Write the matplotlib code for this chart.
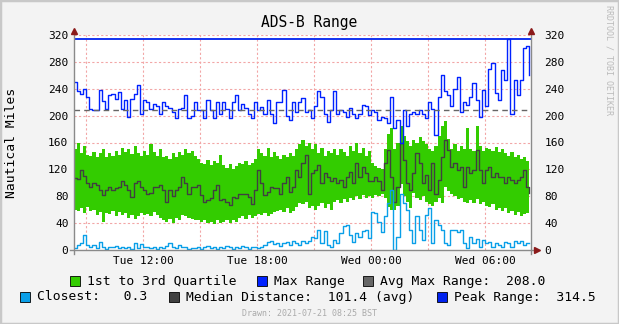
import numpy as np
import matplotlib
matplotlib.use("Agg")
import matplotlib.pyplot as plt
from matplotlib.patches import Rectangle
from matplotlib.lines import Line2D

plt.rcParams["font.family"] = "DejaVu Sans Mono"

# 10 minute samples, Tue 08:20 -> Wed 08:20 (hours since Tue 00:00)
start_hour = 8 + 20 / 60
step_hours = 1 / 6

# 3rd quartile (nm)
q3 = [
    150, 160, 145, 155, 142,
    140, 146, 138, 144, 150, 139,
    145, 140, 148, 142, 152, 146,
    150, 143, 155, 145, 140, 148,
    142, 158, 146, 140, 150, 138,
    140, 136, 144, 138, 146, 142,
    150, 145, 148, 140, 135, 130,
    128, 134, 126, 132, 130, 142,
    126, 122, 128, 120, 125, 130,
    128, 132, 126, 130, 135, 150,
    145, 140, 152, 138, 146, 140,
    136, 142, 138, 145, 140, 150,
    158, 164, 155, 160, 150, 158,
    145, 152, 140, 148, 144, 150,
    142, 150, 146, 140, 155, 148,
    160, 145, 152, 140, 148, 130,
    125, 122, 120, 150, 172, 182,
    150, 160, 184, 170, 162, 155,
    164, 160, 168, 162, 158, 150,
    148, 155, 170, 185, 192, 165,
    150, 158, 148, 155, 150, 182,
    150, 148, 184, 155, 148, 152,
    150, 148, 154, 146, 150, 145,
    140, 146, 138, 142, 136, 138,
    132, 128,
]

# 1st quartile (nm)
q1 = [
    60, 58, 62, 55, 64,
    58, 60, 52, 56, 42, 55,
    54, 58, 50, 56, 52, 55,
    48, 52, 46, 50, 55, 52,
    54, 50, 56, 52, 48, 45,
    42, 46, 40, 48, 44, 52,
    50, 48, 46, 44, 45, 42,
    44, 40, 42, 38, 44, 40,
    42, 45, 40, 44, 42, 48,
    50, 46, 52, 48, 50, 54,
    52, 55, 50, 53, 56, 58,
    60, 56, 62, 55, 58, 64,
    70, 68, 72, 62, 66, 60,
    65, 70, 62, 68, 60, 72,
    74, 70, 76, 72, 78, 74,
    80, 76, 82, 78, 80, 78,
    82, 80, 84, 78, 64, 60,
    60, 66, 98, 80, 72, 62,
    85, 78, 74, 80, 72, 68,
    66, 72, 78, 70, 94, 88,
    84, 80, 76, 78, 72, 70,
    74, 70, 76, 68, 72, 66,
    64, 68, 60, 62, 58, 62,
    55, 58, 52, 56, 50, 54,
    55, 58,
]

# median distance (nm)
median = [
    107, 106, 119, 110, 99,
    94, 99, 97, 89, 82, 89,
    94, 90, 92, 94, 102, 97,
    90, 79, 99, 102, 94, 90,
    84, 85, 94, 94, 97, 89,
    72, 89, 80, 89, 94, 109,
    99, 84, 94, 94, 97, 82,
    72, 75, 77, 89, 97, 74,
    76, 72, 67, 79, 77, 84,
    84, 84, 79, 69, 89, 119,
    99, 82, 87, 94, 92, 92,
    84, 99, 109, 87, 94, 119,
    109, 130, 141, 84, 114, 119,
    126, 99, 114, 109, 102, 107,
    99, 104, 94, 109, 116, 99,
    129, 109, 124, 114, 102, 102,
    109, 102, 89, 129, 149, 109,
    72, 94, 159, 134, 99, 89,
    114, 144, 129, 99, 112, 89,
    129, 84, 104, 139, 164, 149,
    124, 129, 119, 124, 94, 124,
    114, 119, 149, 119, 99, 119,
    124, 109, 114, 109, 109, 99,
    109, 104, 99, 104, 109, 119,
    94, 85,
]

# max range (nm)
max_range = [
    250, 236, 232, 240, 228,
    210, 208, 209, 238, 222, 210,
    230, 232, 225, 235, 210, 223,
    198, 225, 232, 245, 203, 223,
    220, 210, 218, 215, 203, 220,
    215, 212, 205, 196, 210, 212,
    230, 197, 200, 221, 208, 208,
    196, 223, 208, 196, 221, 203,
    221, 210, 196, 220, 231, 208,
    218, 212, 203, 196, 220, 208,
    213, 203, 223, 203, 189, 221,
    221, 238, 200, 193, 221, 206,
    221, 226, 206, 208, 196, 215,
    236, 228, 203, 191, 208, 236,
    203, 208, 205, 198, 211, 203,
    196, 203, 216, 215, 201, 208,
    206, 193, 198, 196, 189, 228,
    181, 193, 159, 208, 184, 203,
    206, 203, 208, 203, 196, 221,
    210, 171, 228, 260, 236, 230,
    215, 240, 258, 206, 221, 216,
    228, 248, 223, 198, 238, 215,
    270, 278, 233, 223, 268, 253,
    314.5, 203, 253, 230, 253, 300,
    303, 260,
]

# closest aircraft (nm)
closest = [
    3, 8, 10, 22, 8,
    5, 7, 3, 12, 4, 2,
    5, 4, 6, 3, 5, 3,
    4, 2, 11, 3, 9, 4,
    5, 3, 4, 2, 5, 3,
    6, 10, 4, 3, 8, 5,
    4, 2, 3, 3, 5, 2,
    4, 6, 3, 4, 2, 5,
    3, 6, 4, 2, 4, 3,
    6, 5, 2, 4, 5, 3,
    4, 8, 12, 14, 9, 11,
    6, 10, 12, 8, 13, 10,
    7, 14, 11, 13, 20, 18,
    30, 10, 28, 8, 5, 15,
    10, 25, 35, 37, 22, 12,
    25, 20, 28, 30, 18, 57,
    55, 42, 27, 50, 70, 89,
    0.3, 20, 84, 70, 60, 30,
    10, 50, 30, 15, 52, 62,
    10, 45, 37, 30, 10, 8,
    30, 30, 27, 30, 10, 3,
    20, 10, 17, 5, 15, 10,
    12, 5, 10, 7, 5, 12,
    10, 5, 14, 10, 14, 7,
    11, 10,
]

avg_max = 208.0
peak_range = 314.5
median_avg = 101.4
closest_min = 0.3

hours = start_hour + np.arange(len(q3)) * step_hours

major_ticks = [12, 18, 24, 30]
major_labels = ["Tue 12:00", "Tue 18:00", "Wed 00:00", "Wed 06:00"]
minor_ticks = [9, 15, 21, 27]
y_ticks = [0, 40, 80, 120, 160, 200, 240, 280, 320]

W, H = 619, 324
def fx(px):
    return px / W
def fy(py):
    return 1 - py / H

fig = plt.figure(figsize=(W / 100, H / 100), dpi=100, facecolor="#f3f3f3")
ax = fig.add_axes([fx(74), fy(250), fx(531) - fx(74), fy(35) - fy(250)])
ax.set_facecolor("white")

grid_col = "#f2a6a6"
for v in y_ticks[1:]:
    ax.axhline(v, color=grid_col, lw=0.8, dashes=(2, 2), zorder=1)
for v in major_ticks + minor_ticks:
    ax.axvline(v, color=grid_col, lw=0.8, dashes=(2, 2), zorder=1)

ax.fill_between(hours, q1, q3, step="post", color="#33cc00", lw=0, zorder=2)
ax.step(hours, median, where="post", color="#404040", lw=1.0, zorder=3)
ax.step(hours, closest, where="post", color="#0a9fe8", lw=1.0, zorder=3)
ax.step(hours, max_range, where="post", color="#0022ff", lw=1.0, zorder=4)
ax.axhline(avg_max, color="#666666", lw=1.0, dashes=(4, 3), zorder=4)
ax.axhline(peak_range, color="#0022ee", lw=1.3, zorder=4)

ax.set_xlim(start_hour + 0.035, 32.42)
ax.set_ylim(0, 320)
for s in ax.spines.values():
    s.set_visible(False)
ax.set_yticks(y_ticks)
ax.set_xticks(major_ticks)
ax.set_xticklabels(major_labels)
ax.tick_params(axis="y", length=0, labelsize=8, pad=4, labelleft=True, labelright=True)
ax.tick_params(axis="x", length=0, labelsize=8, pad=4)
for t in ax.yaxis.get_major_ticks():
    t.label2.set_x(1.0 + 8 / 457)

# axis lines with arrows
axis_col = "#8a8a8a"
arrow_col = "#8b1a1a"
fig.add_artist(Line2D([fx(74), fx(74)], [fy(254), fy(31)], color=axis_col, lw=1))
fig.add_artist(Line2D([fx(531), fx(531)], [fy(254), fy(31)], color=axis_col, lw=1))
fig.add_artist(Line2D([fx(70), fx(536)], [fy(250), fy(250)], color=axis_col, lw=1))
fig.add_artist(Line2D([fx(74)], [fy(31)], marker="^", color=arrow_col, ms=4.5, lw=0))
fig.add_artist(Line2D([fx(531)], [fy(31)], marker="^", color=arrow_col, ms=4.5, lw=0))
fig.add_artist(Line2D([fx(537)], [fy(250)], marker=">", color=arrow_col, ms=4.5, lw=0))

fig.text(fx(309), fy(23), "ADS-B Range", ha="center", va="center", fontsize=10.5)
fig.text(fx(12), fy(143), "Nautical Miles", ha="center", va="center", rotation=90, fontsize=9.4)
fig.text(fx(609), fy(5), "RRDTOOL / TOBI OETIKER", ha="center", va="top",
         rotation=270, fontsize=6, color="#bbbbbb")

# legend
legend_rows = [
    (281, [(70, "#33cc00", "1st to 3rd Quartile"),
           (257, "#0022ff", "Max Range"),
           (363, "#666666", "Avg Max Range:  %.1f" % avg_max)]),
    (297, [(20, "#0a9fe8", "Closest:   %.1f" % closest_min),
           (169, "#404040", "Median Distance:  %.1f (avg)" % median_avg),
           (437, "#0022ee", "Peak Range:  %.1f" % peak_range)]),
]
for py, items in legend_rows:
    for px, col, label in items:
        fig.add_artist(Rectangle((fx(px), fy(py + 5)), 10 / W, 10 / H,
                                 facecolor=col, edgecolor="black", lw=0.6))
        fig.text(fx(px + 17), fy(py), label, ha="left", va="center", fontsize=9.4)

fig.text(fx(310), fy(313), "Drawn: 2021-07-21 08:25 BST", ha="center", va="center",
         fontsize=6, color="#aaaaaa")

fig.add_artist(Rectangle((0, 0), 1, 1, fill=False, edgecolor="#c8c8c8", lw=2.5))

fig.savefig("out.png", dpi=100, facecolor=fig.get_facecolor())
